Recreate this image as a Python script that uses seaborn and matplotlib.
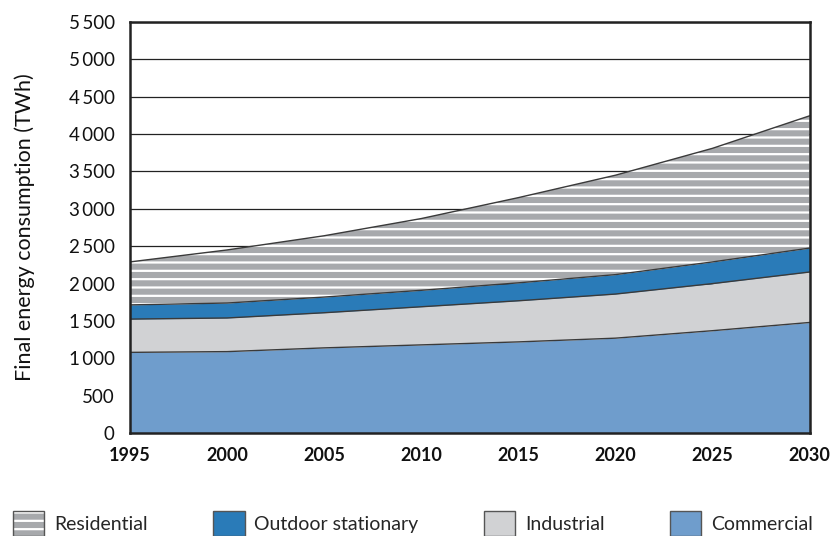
import numpy as np
import pandas as pd
import matplotlib
matplotlib.use("Agg")
import matplotlib.pyplot as plt
import seaborn as sns
from matplotlib.patches import Patch, Rectangle
from matplotlib.legend_handler import HandlerBase

years = [1995, 2000, 2005, 2010, 2015, 2020, 2025, 2030]
commercial = [1080, 1090, 1140, 1180, 1220, 1270, 1370, 1480]
industrial = [445, 450, 470, 510, 550, 590, 630, 675]
outdoor = [190, 200, 210, 220, 240, 260, 290, 320]
residential = [575, 710, 820, 960, 1140, 1330, 1520, 1770]

series_names = ["Commercial", "Industrial", "Outdoor stationary", "Residential"]
series_colors = ["#6f9dcc", "#d1d2d4", "#2a7bb8", "#a7a9ac"]

df = pd.DataFrame({"year": years, "Commercial": commercial, "Industrial": industrial,
                   "Outdoor stationary": outdoor, "Residential": residential})

sns.set_theme(style="white")
plt.rcParams["font.family"] = ["Lato", "DejaVu Sans"]
plt.rcParams["hatch.linewidth"] = 1.6

fig = plt.figure(figsize=(8.33, 5.36), dpi=100)
ax = fig.add_axes([0.156, 0.192, 0.816, 0.767])

# gridlines behind everything
for v in range(500, 5501, 500):
    ax.axhline(v, color="#222222", lw=0.9, zorder=0)

bottom = np.zeros(len(years))
for name, col in zip(series_names, series_colors):
    top = bottom + df[name].values
    if name == "Residential":
        ax.fill_between(df["year"], bottom, top, facecolor=col, edgecolor="white",
                        hatch="--", linewidth=0, zorder=1)
    else:
        ax.fill_between(df["year"], bottom, top, facecolor=col, linewidth=0, zorder=1)
    sns.lineplot(x=df["year"], y=top, color="#3a3a3a", lw=1.0, ax=ax, zorder=2)
    bottom = top

ax.set_xlim(1995, 2030)
ax.set_ylim(0, 5500)
ax.set_xticks(years)
ax.set_yticks(range(0, 5501, 500))
ax.set_yticklabels([f"{v:,}".replace(",", "\u2009") for v in range(0, 5501, 500)])
ax.tick_params(axis="x", direction="in", length=12, width=2, color="#222222",
               pad=10, labelsize=13, labelcolor="#111111")
ax.tick_params(axis="y", length=0, pad=11, labelsize=13.5, labelcolor="#111111")
for lab in ax.get_xticklabels():
    lab.set_fontweight("bold")
for s in ax.spines.values():
    s.set_visible(True)
    s.set_color("#222222")
    s.set_linewidth(1.8)
ax.set_xlabel("")
ax.set_ylabel("Final energy consumption (TWh)", fontsize=15.5, labelpad=24, color="#111111")


class Overlay(HandlerBase):
    # draw the fill and its frame on top of each other
    def create_artists(self, legend, orig_handle, xdescent, ydescent, width, height,
                       fontsize, trans):
        out = []
        for h in orig_handle:
            r = Rectangle((-xdescent, -ydescent), width, height, transform=trans)
            r.update_from(h)
            out.append(r)
        return out


frame = dict(fill=False, edgecolor="#555555", linewidth=1.0)
handles = [
    (Patch(facecolor="#a7a9ac", edgecolor="white", hatch="--", linewidth=0), Patch(**frame)),
    (Patch(facecolor="#2a7bb8", linewidth=0), Patch(**frame)),
    (Patch(facecolor="#d1d2d4", linewidth=0), Patch(**frame)),
    (Patch(facecolor="#6f9dcc", linewidth=0), Patch(**frame)),
]
labels = ["Residential", "Outdoor stationary", "Industrial", "Commercial"]
fig.legend(handles=handles, labels=labels, loc="center left",
           bbox_to_anchor=(0.016, 0.0, 0.96, 0.048),
           ncol=4, mode="expand", frameon=False, fontsize=14, handlelength=1.6,
           handleheight=1.6, handletextpad=0.5, borderaxespad=0.0, borderpad=0.0,
           handler_map={tuple: Overlay()})

fig.savefig("out.png", dpi=100)
